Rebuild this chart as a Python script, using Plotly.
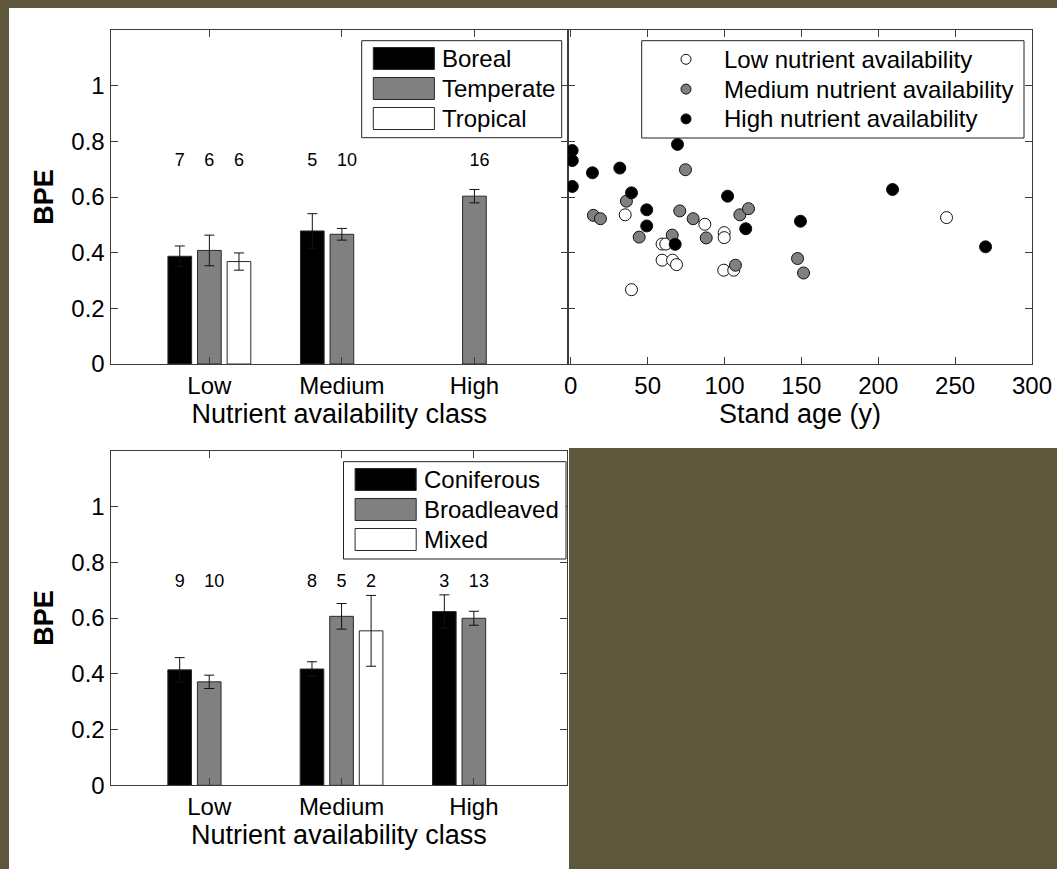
import plotly.graph_objects as go

W, H = 1057, 869

# ---------------- data ----------------
classes = ["Low", "Medium", "High"]

# Panel A: BPE by nutrient class and biome
boreal_bpe = [0.387, 0.478, None]
boreal_err = [0.037, 0.062, None]
boreal_n = [7, 5, None]
temperate_bpe = [0.408, 0.466, 0.603]
temperate_err = [0.055, 0.021, 0.024]
temperate_n = [6, 10, 16]
tropical_bpe = [0.368, None, None]
tropical_err = [0.031, None, None]
tropical_n = [6, None, None]

# Panel C: BPE by nutrient class and leaf type
coniferous_bpe = [0.414, 0.417, 0.623]
coniferous_err = [0.044, 0.026, 0.060]
coniferous_n = [9, 8, 3]
broadleaved_bpe = [0.371, 0.606, 0.599]
broadleaved_err = [0.024, 0.046, 0.025]
broadleaved_n = [10, 5, 13]
mixed_bpe = [None, 0.554, None]
mixed_err = [None, 0.127, None]
mixed_n = [None, 2, None]

# Panel B: BPE vs stand age
low_age = [35.4, 87.2, 99.8, 99.8, 59.4, 61.8, 59.4, 66.2, 68.8, 99.5, 106.0, 39.5, 244.4]
low_bpe = [0.536, 0.502, 0.472, 0.454, 0.431, 0.431, 0.373, 0.373, 0.357, 0.337, 0.337, 0.267, 0.526]
med_age = [74.6, 36.2, 14.7, 19.3, 70.9, 79.6, 44.5, 66.0, 88.1, 110.0, 115.6, 107.1, 147.5, 151.4]
med_bpe = [0.698, 0.585, 0.534, 0.522, 0.550, 0.522, 0.456, 0.463, 0.453, 0.536, 0.558, 0.355, 0.379, 0.327]
high_age = [0.9, 1.0, 1.0, 14.1, 31.9, 69.4, 39.5, 49.4, 49.4, 67.9, 102.0, 113.8, 149.4, 209.3, 269.8]
high_bpe = [0.767, 0.731, 0.638, 0.687, 0.704, 0.789, 0.615, 0.554, 0.496, 0.430, 0.603, 0.486, 0.513, 0.627, 0.421]

y_ticks = [0, 0.2, 0.4, 0.6, 0.8, 1.0]
y_ticktext = ["0", "0.2", "0.4", "0.6", "0.8", "1"]

# ---------------- styles ----------------
OLIVE = "#5e573b"
AX = "#3c3c3c"
EDGE = "#2a2a2a"
BLACK, GRAY, WHITE = "#000000", "#808080", "#ffffff"
FONT = "Liberation Sans, Arial, sans-serif"
LABEL_Y = 0.685

def px(x):
    return x / W

def py(y):
    return 1 - y / H

fig = go.Figure()


def add_bars(vals, errs, counts, color, og, xa, ya, ag):
    fig.add_trace(go.Bar(
        x=classes, y=vals, marker=dict(color=color, line=dict(color=EDGE, width=1)),
        error_y=dict(type="data", array=errs, visible=True, color="#111111", thickness=1, width=5),
        offsetgroup=og, alignmentgroup=ag, xaxis=xa, yaxis=ya, showlegend=False,
    ))
    text = ["" if n is None else ("\u2007" + str(n) if n >= 10 else str(n)) for n in counts]
    fig.add_trace(go.Bar(
        x=classes, y=[None if n is None else LABEL_Y for n in counts], text=text,
        textposition="outside", constraintext="none", cliponaxis=False,
        textfont=dict(size=18, color="black", family=FONT),
        marker=dict(color="rgba(0,0,0,0)", line=dict(width=0)),
        offsetgroup=og, alignmentgroup=ag, xaxis=xa, yaxis=ya, showlegend=False, hoverinfo="skip",
    ))


add_bars(boreal_bpe, boreal_err, boreal_n, BLACK, "a", "x", "y", "top")
add_bars(temperate_bpe, temperate_err, temperate_n, GRAY, "b", "x", "y", "top")
add_bars(tropical_bpe, tropical_err, tropical_n, WHITE, "c", "x", "y", "top")

add_bars(coniferous_bpe, coniferous_err, coniferous_n, BLACK, "a", "x3", "y3", "bot")
add_bars(broadleaved_bpe, broadleaved_err, broadleaved_n, GRAY, "b", "x3", "y3", "bot")
add_bars(mixed_bpe, mixed_err, mixed_n, WHITE, "c", "x3", "y3", "bot")

for ages, vals, col in [(low_age, low_bpe, WHITE), (med_age, med_bpe, GRAY), (high_age, high_bpe, BLACK)]:
    fig.add_trace(go.Scatter(
        x=ages, y=vals, mode="markers", xaxis="x2", yaxis="y2", showlegend=False,
        marker=dict(size=12, color=col, line=dict(color="#111111", width=1)),
    ))

axis_common = dict(
    showline=True, linecolor=AX, linewidth=1, mirror="allticks", ticks="inside",
    ticklen=7, tickcolor=AX, tickwidth=1, showgrid=False, zeroline=False,
    tickfont=dict(size=24, color="black", family=FONT), automargin=False,
)

cat_range = [-0.746, 2.706]

fig.update_layout(
    width=W, height=H, margin=dict(l=0, r=0, t=0, b=0),
    paper_bgcolor=OLIVE, plot_bgcolor="white", showlegend=False,
    barmode="group", bargap=0.33, bargroupgap=0.2,
    font=dict(family=FONT, color="black"),
    xaxis=dict(axis_common, type="category", categoryorder="array", categoryarray=classes,
               range=cat_range, domain=[px(110.5), px(568)], anchor="y",
               title=dict(text="Nutrient availability class", font=dict(size=27), standoff=3)),
    yaxis=dict(axis_common, range=[0, 1.2], tickvals=y_ticks, ticktext=y_ticktext,
               domain=[py(364), py(30)], anchor="x",
               title=dict(text="<b>BPE</b>", font=dict(size=27), standoff=9)),
    xaxis2=dict(axis_common, range=[-1.8, 300], tick0=0, dtick=50,
                domain=[px(568), px(1032)], anchor="y2",
                title=dict(text="Stand age (y)", font=dict(size=27), standoff=3)),
    yaxis2=dict(axis_common, range=[0, 1.2], tickvals=y_ticks, showticklabels=False,
                domain=[py(364), py(30)], anchor="x2"),
    xaxis3=dict(axis_common, type="category", categoryorder="array", categoryarray=classes,
                range=cat_range, domain=[px(110.5), px(567.3)], anchor="y3",
                title=dict(text="Nutrient availability class", font=dict(size=27), standoff=3)),
    yaxis3=dict(axis_common, range=[0, 1.2], tickvals=y_ticks, ticktext=y_ticktext,
                domain=[py(785.3), py(450.7)], anchor="x3",
                title=dict(text="<b>BPE</b>", font=dict(size=27), standoff=9)),
)

shapes = []
annotations = []

# white panels behind the figure
shapes.append(dict(type="rect", xref="paper", yref="paper", x0=px(9), x1=1, y0=py(448), y1=py(8),
                   fillcolor="white", line=dict(width=0), layer="below"))
shapes.append(dict(type="rect", xref="paper", yref="paper", x0=px(9), x1=px(569), y0=0, y1=py(448),
                   fillcolor="white", line=dict(width=0), layer="below"))


def bar_legend(x0, y0, x1, y1, names, colors):
    shapes.append(dict(type="rect", xref="paper", yref="paper", x0=px(x0), x1=px(x1),
                       y0=py(y1), y1=py(y0), fillcolor="white", line=dict(color="#222222", width=1)))
    for i, (nm, col) in enumerate(zip(names, colors)):
        top = y0 + 6.8 + 30 * i
        shapes.append(dict(type="rect", xref="paper", yref="paper", x0=px(x0 + 11.6), x1=px(x0 + 72.7),
                           y0=py(top + 22), y1=py(top), fillcolor=col, line=dict(color=EDGE, width=1)))
        annotations.append(dict(xref="paper", yref="paper", x=px(x0 + 78.5), y=py(top + 11),
                                xanchor="left", yanchor="middle", text=nm, showarrow=False,
                                font=dict(size=24, color="black", family=FONT)))


bar_legend(361.7, 40.7, 561.7, 137.7, ["Boreal", "Temperate", "Tropical"], [BLACK, GRAY, WHITE])
bar_legend(343.5, 461.7, 566.0, 559.0, ["Coniferous", "Broadleaved", "Mixed"], [BLACK, GRAY, WHITE])

# scatter legend
shapes.append(dict(type="rect", xref="paper", yref="paper", x0=px(641.7), x1=px(1024),
                   y0=py(138), y1=py(40.7), fillcolor="white", line=dict(color="#222222", width=1)))
for i, (nm, col) in enumerate(zip(["Low nutrient availability", "Medium nutrient availability",
                                   "High nutrient availability"], [WHITE, GRAY, BLACK])):
    cy = 59.3 + 29.8 * i
    shapes.append(dict(type="circle", xref="paper", yref="paper", xsizemode="pixel", ysizemode="pixel",
                       xanchor=px(686), yanchor=py(cy), x0=-5, x1=5, y0=-5, y1=5,
                       fillcolor=col, line=dict(color="#111111", width=1)))
    annotations.append(dict(xref="paper", yref="paper", x=px(722), y=py(cy),
                            xanchor="left", yanchor="middle", text=nm, showarrow=False,
                            font=dict(size=24, color="black", family=FONT)))

fig.update_layout(shapes=shapes, annotations=annotations)

fig.write_html("out.html")
